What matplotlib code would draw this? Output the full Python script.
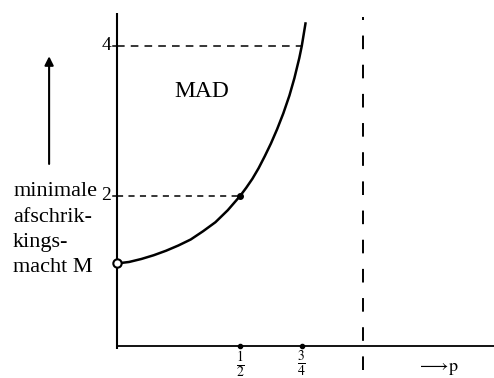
import numpy as np
import matplotlib.pyplot as plt

plt.rcParams['font.family'] = ['Liberation Serif', 'DejaVu Serif']
plt.rcParams['mathtext.fontset'] = 'stix'

# curve: minimal deterrence M against p
p_vals = [0, 0.05, 0.1, 0.15, 0.2, 0.25, 0.3, 0.35, 0.4, 0.45, 0.5,
          0.525, 0.55, 0.575, 0.6, 0.625, 0.65, 0.675, 0.7, 0.72, 0.74,
          0.75, 0.765]
m_vals = [1.10, 1.12, 1.16, 1.21, 1.27, 1.34, 1.42, 1.53, 1.65, 1.81, 2.00,
          2.11, 2.23, 2.37, 2.53, 2.70, 2.89, 3.10, 3.34, 3.57, 3.84,
          4.00, 4.30]

y_ticks = [2, 4]
y_labels = ['2', '4']
x_ticks = [0.5, 0.75]
x_labels = [r'$\frac{1}{2}$', r'$\frac{3}{4}$']
p_limit = 1.0

fig = plt.figure(figsize=(4.94, 3.78), dpi=100)
ax = fig.add_axes([0, 0, 1, 1])
ax.set_xlim(-0.473, 1.529)
ax.set_ylim(-0.427, 4.613)
ax.axis('off')

# axes drawn by hand
ax.plot([0, 0], [-0.04, 4.44], color='black', lw=1.5, solid_capstyle='butt')
ax.plot([0, 1.529], [0, 0], color='black', lw=1.3)

# the curve
ax.plot(p_vals, m_vals, color='black', lw=1.8, solid_joinstyle='round')
ax.plot(p_vals[0], m_vals[0], 'o', ms=6, mfc='white', mec='black', mew=1.5)
ax.plot(0.5, 2, 'o', ms=4, color='black')

# guide lines
ax.plot([0, 0.75], [4, 4], color='black', lw=1.1, dashes=(5, 4))
ax.plot([0, 0.5], [2, 2], color='black', lw=1.1, dashes=(4, 3.5))
ax.plot([p_limit, p_limit], [-0.32, 4.39], color='black', lw=1.4, dashes=(7, 8))

# ticks
for yt, lab in zip(y_ticks, y_labels):
    ax.plot([-0.015, 0], [yt, yt], color='black', lw=1.1)
    ax.text(-0.022, yt, lab, ha='right', va='center', fontsize=14)
for xt, lab in zip(x_ticks, x_labels):
    ax.plot(xt, 0, 'o', ms=3, color='black')
    ax.text(xt, -0.235, lab, ha='center', va='center', fontsize=14)

ax.text(1.218, -0.41, r'$\longrightarrow\!\mathrm{p}$', ha='left',
        va='bottom', fontsize=13)

ax.text(0.346, 3.39, 'MAD', ha='center', va='center', fontsize=17)

ax.text(-0.42, 1.55, 'minimale\nafschrik-\nkings-\nmacht M', ha='left',
        va='center', fontsize=16, linespacing=1.45)
ax.annotate('', xy=(-0.274, 3.9), xytext=(-0.274, 2.39),
            arrowprops=dict(arrowstyle='-|>', color='black', lw=1.5,
                            mutation_scale=13))

fig.savefig('out.png', dpi=100)
